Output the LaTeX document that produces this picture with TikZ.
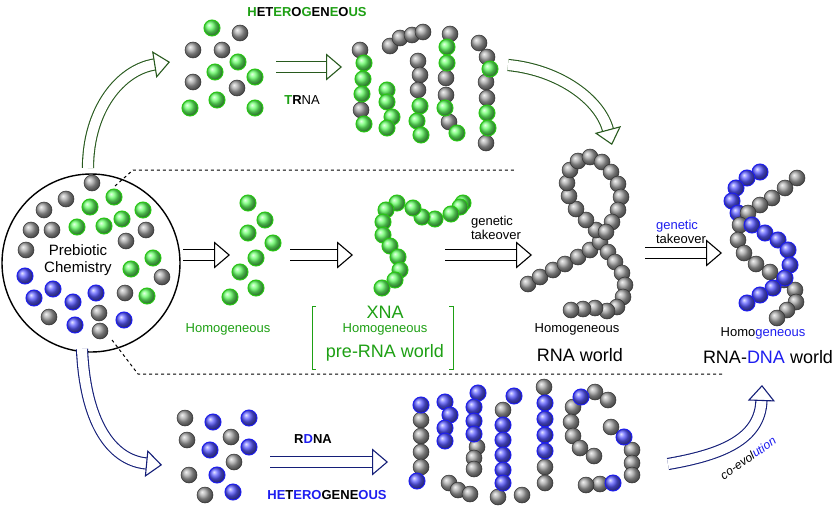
\documentclass[tikz,border=0pt]{standalone}
\usepackage{fontspec}
\setmainfont{Liberation Sans}
\usetikzlibrary{arrows.meta}
\definecolor{gb}{RGB}{40,200,20}
\definecolor{gt}{RGB}{30,160,20}
\definecolor{bb}{RGB}{30,30,240}
\definecolor{ga}{RGB}{40,90,30}
\definecolor{ba}{RGB}{20,30,120}
\newcommand\K[2]{\shadedraw[ball color=gray!70,draw=black!80,line width=0.5pt] (#1,#2) circle (8);}
\newcommand\G[2]{\shadedraw[ball color=green!60!white,draw=gb,line width=1pt] (#1,#2) circle (8);}
\newcommand\B[2]{\shadedraw[ball color=blue!65!white,draw=bb,line width=1pt] (#1,#2) circle (8);}
\tikzset{
 blk/.style={line width=1.1pt,double=white,double distance=10pt,-{Triangle[length=16pt,width=27pt,fill=white]}},
 lbl/.style={font=\fontsize{13}{14}\selectfont,inner sep=0pt},
 big/.style={font=\fontsize{18}{20}\selectfont,inner sep=0pt},
 dsh/.style={dashed,line width=1pt,black}
}
\begin{document}
\begin{tikzpicture}[x=1pt,y=-1pt]
\useasboundingbox (0,0) rectangle (840,511);
\fill[white] (0,0) rectangle (840,511);
% circle
\node[draw,circle,line width=1.4pt,minimum size=178pt,inner sep=0pt] (pc) at (91,263) {};
% dashed frame
\coordinate (d1) at (115,186); \coordinate (d2) at (133,170); \coordinate (d3) at (515,170);
\coordinate (d4) at (112,340); \coordinate (d5) at (138,374); \coordinate (d6) at (725,374);
\draw[dsh] (d1)--(d2)--(d3);
\draw[dsh] (d4)--(d5)--(d6);
% circle beads
\foreach \x/\y in {92/183,66/199,44/210,31/230,52/230,26/250,146/230,126/241,162/277,125/293,49/317,99/313,100/331} {\K{\x}{\y}}
\foreach \x/\y in {90/207,114/197,143/210,122/219,104/226,77/227,153/258,131/269,147/296} {\G{\x}{\y}}
\foreach \x/\y in {25/276,34/298,53/289,73/302,96/293,124/320,75/325} {\B{\x}{\y}}
\node[lbl,font=\fontsize{15}{17}\selectfont,align=center,fill=white,fill opacity=0.7,text opacity=1,inner sep=1pt] (pct) at (78,260) {Prebiotic\\Chemistry};
% top branch
\coordinate (t0) at (88,168); \coordinate (t1) at (170,62);
\draw[blk,color=ga] (t0) .. controls (88,110) and (120,70) .. (t1);
\foreach \x/\y in {240/33,193/50,222/50,193/82,237/88} {\K{\x}{\y}}
\foreach \x/\y in {212/28,238/62,215/72,255/77,190/108,217/100,255/108} {\G{\x}{\y}}
\node[lbl,font=\bfseries\fontsize{13}{14}\selectfont] (het1) at (307,12) {\textcolor{gt}{H}ET\textcolor{gt}{ER}O\textcolor{gt}{G}EN\textcolor{gt}{E}O\textcolor{gt}{US}};
\coordinate (ta) at (276,67); \coordinate (tb) at (342,67);
\draw[blk,color=ga] (ta)--(tb);
\node[lbl] (trna) at (302,100) {\textcolor{gt}{\bfseries T}\textbf{R}NA};
\foreach \x/\y in {360/50,361/110,390/46,400/38,412/35,423/32,418/61,420/75,418/90,450/34,446/78,446/95,449/122,479/43,487/57,486/82,487/98,486/143} {\K{\x}{\y}}
\foreach \x/\y in {364/63,363/79,362/94,364/124,387/90,387/102,392/117,387/128,420/106,417/121,421/135,447/47,447/63,445/108,457/133,490/69,487/113,488/128} {\G{\x}{\y}}
\coordinate (t2) at (508,65); \coordinate (t3) at (612,145);
\draw[blk,color=ga] (t2) .. controls (560,70) and (600,100) .. (t3);
% middle
\coordinate (m1) at (183,255); \coordinate (m2) at (230,255);
\draw[blk,color=black] (m1)--(m2);
\foreach \x/\y in {248/203,265/220,248/233,273/243,256/258,240/272,256/288,230/297} {\G{\x}{\y}}
\node[lbl,text=gt] (hom1) at (228,329) {Homogeneous};
\coordinate (m3) at (290,255); \coordinate (m4) at (353,255);
\draw[blk,color=black] (m3)--(m4);
\foreach \x/\y in {463/203,460/207,451/214,435/219,422/217,413/208,397/203,386/210,383/222,383/235,390/246,398/257,400/270,395/280,382/288} {\G{\x}{\y}}
\draw[gt,line width=1pt] (316,306)--(312,306)--(312,369)--(316,369);
\draw[gt,line width=1pt] (449,306)--(453,306)--(453,369)--(449,369);
\node[big,text=gt] (xna) at (385,312) {XNA};
\node[lbl,text=gt] (hom2) at (385,329) {Homogeneous};
\node[big,text=gt] (pre) at (385,353) {pre-RNA world};
\coordinate (m5) at (445,255); \coordinate (m6) at (532,255);
\draw[blk,color=black] (m5)--(m6);
\node[lbl,align=left] (gt1) at (496,228) {genetic\\takeover};
% RNA loop
\foreach \x/\y in {528/284,540/277,553/270,565/264,578/257,590/250,600/242,596/230,586/220,576/209,569/196,567/183,570/170,578/161,590/157,602/162,611/172,618/184,621/197,618/210,612/222,606/232,608/252,615/262,622/273,625/285,623/297,617/307,607/311,595/308,583/309,571/310} {\K{\x}{\y}}
\node[lbl] (hom3) at (577,329) {Homogeneous};
\node[big] (rnaw) at (580,355) {RNA world};
\coordinate (m7) at (645,253); \coordinate (m8) at (722,253);
\draw[blk,color=black] (m7)--(m8);
\node[lbl,align=left] (gt2) at (681,232) {\textcolor{bb}{genetic}\\takeover};
% RNA-DNA
\foreach \x/\y in {797/178,785/188,772/198} {\K{\x}{\y}}
\foreach \x/\y in {760/172,747/178,736/188,732/201,738/213} {\B{\x}{\y}}
\foreach \x/\y in {760/205,748/213,740/225,738/240,744/253,756/264,770/272} {\K{\x}{\y}}
\foreach \x/\y in {752/225,765/233,778/240,788/250,790/265} {\B{\x}{\y}}
\foreach \x/\y in {784/280,795/290,796/302,787/310,777/318} {\K{\x}{\y}}
\foreach \x/\y in {785/278,773/288,760/295,747/303} {\B{\x}{\y}}
\node[lbl] (hom4) at (763,333) {Homo\textcolor{bb}{geneous}};
\node[big] (rdw) at (768,357) {RNA-\textcolor{bb}{DNA} world};
% bottom branch
\coordinate (b0) at (82,349); \coordinate (b1) at (162,465);
\draw[blk,color=ba] (b0) .. controls (85,420) and (110,460) .. (b1);
\foreach \x/\y in {185/418,187/440,231/437,234/462,189/475,205/495} {\K{\x}{\y}}
\foreach \x/\y in {213/422,249/418,210/450,249/447,217/475,233/492} {\B{\x}{\y}}
\node[lbl,font=\bfseries\fontsize{13}{14}\selectfont] (rdna) at (313,439) {R\textcolor{bb}{D}NA};
\coordinate (b2) at (270,462); \coordinate (b3) at (388,462);
\draw[blk,color=ba] (b2)--(b3);
\node[lbl,font=\bfseries\fontsize{13}{14}\selectfont] (het2) at (327,495) {\textcolor{bb}{HE}T\textcolor{bb}{ERO}GENE\textcolor{bb}{OUS}};
\foreach \x/\y in {421/420,421/436,421/452,421/467,449/483,458/490,470/494,477/447,474/458,474/469,498/497,503/410,522/495,544/387,545/467,545/483,595/392,608/400,573/407,571/422,573/436,580/448,594/456,611/427,632/450,632/463,632/475,600/484,586/485} {\K{\x}{\y}}
\foreach \x/\y in {421/405,417/481,445/402,450/415,445/428,445/441,478/393,474/407,474/421,474/434,514/396,503/425,503/440,503/455,503/470,503/483,545/403,545/419,545/435,545/451,581/397,624/437,613/483} {\B{\x}{\y}}
\coordinate (b4) at (668,464); \coordinate (b5) at (762,385);
\draw[blk,color=ba] (b4) .. controls (720,455) and (760,440) .. (b5);
\node[lbl,rotate=35,font=\itshape\fontsize{12}{13}\selectfont] (coe) at (748,458) {co-evol\textcolor{bb}{ution}};
\end{tikzpicture}
\end{document}
